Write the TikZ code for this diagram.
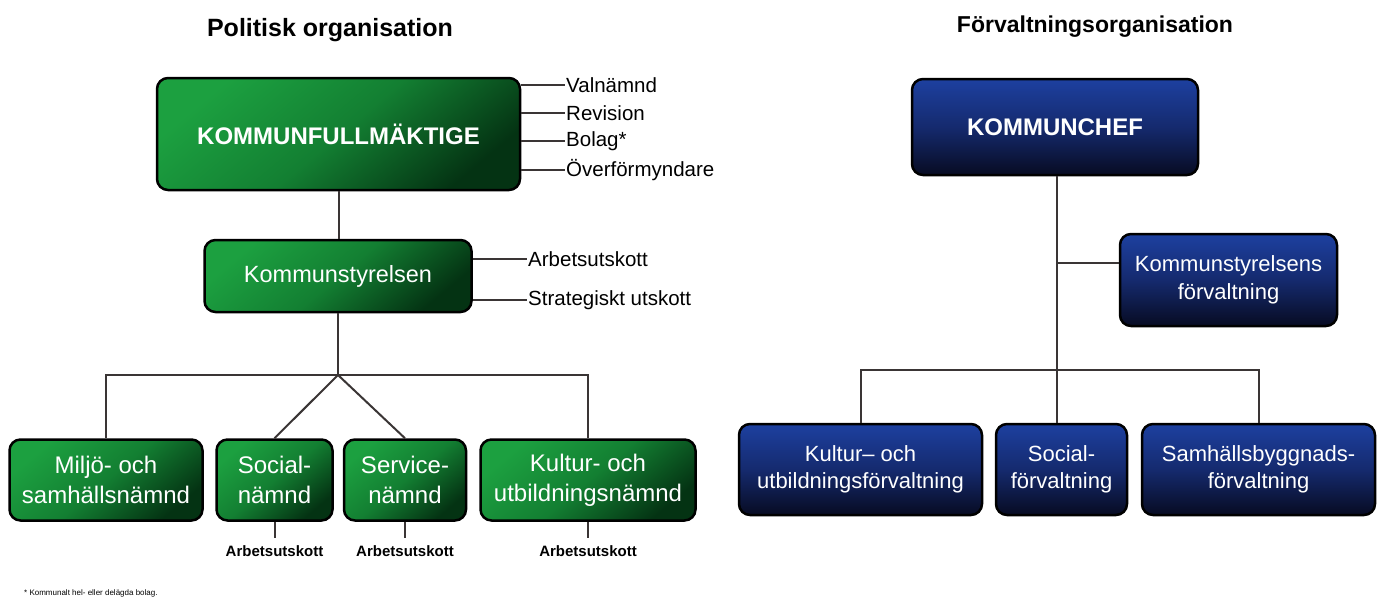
\documentclass[tikz,border=0pt]{standalone}
\usepackage{fontspec}
\setmainfont{Liberation Sans}
\usepackage{tikz}
\usepackage{xcolor}
\usetikzlibrary{positioning}
\definecolor{greenlight}{HTML}{1CA040}
\definecolor{greenmid}{HTML}{137F32}
\definecolor{greendark}{HTML}{043313}
\definecolor{bluelight}{HTML}{1D40A0}
\definecolor{bluemid}{HTML}{152A6E}
\definecolor{bluedark}{HTML}{070B22}
\definecolor{linegray}{HTML}{3A3535}
\tikzset{
    green-box/.style = {draw=black, line width=2.5pt, rectangle, rounded corners=11pt, top color=greenlight, bottom color=greendark, middle color=greenmid, shading angle=40, text=white, align=center, inner sep=0pt},
    blue-box/.style = {green-box, top color=bluelight, bottom color=bluedark, middle color=bluemid},
    side-label/.style = {anchor=west, inner sep=1pt, font=\fontsize{20.5}{24}\selectfont},
    small-label/.style = {inner sep=1pt, outer ysep=7pt, font=\bfseries\fontsize{15}{17}\selectfont},
    head-title/.style = {font=\bfseries\fontsize{23}{27}\selectfont},
    conn/.style = {draw=linegray, line width=2pt},
}

\begin{document}
\begin{tikzpicture}[x=1pt, y=-1pt]
\useasboundingbox (0,0) rectangle (1377,603);

% politisk organisation
\node[head-title, font=\bfseries\fontsize{25}{29}\selectfont] (poltitle) at (330,30) {Politisk organisation};
\node[green-box, minimum width=363pt, minimum height=112pt, font=\bfseries\fontsize{24}{28}\selectfont] (kf) at (338.5,134) {KOMMUNFULLMÄKTIGE};
\node[side-label] (valn) at (565,85) {Valnämnd};
\node[side-label] (rev) at (565,113) {Revision};
\node[side-label] (bol) at (565,141) {Bolag*};
\node[side-label] (ovf) at (565,170) {Överförmyndare};
\draw[conn] (kf.east |- valn.west) -- (valn.west);
\draw[conn] (kf.east |- rev.west) -- (rev.west);
\draw[conn] (kf.east |- bol.west) -- (bol.west);
\draw[conn] (kf.east |- ovf.west) -- (ovf.west);

\node[green-box, minimum width=267pt, minimum height=72pt, font=\fontsize{23.5}{27}\selectfont] (ks) at (338,276) {Kommunstyrelsen};
\node[side-label] (arbks) at (527,259) {Arbetsutskott};
\node[side-label] (strat) at (527,300) {Strategiskt utskott};
\draw[conn] (ks.east |- arbks.west) -- (arbks.west);
\draw[conn] (ks.east |- strat.west) -- (strat.west);
\draw[conn] (kf.south) -- (kf.south |- ks.north);

\node[green-box, minimum width=193pt, minimum height=81pt, font=\fontsize{24}{30}\selectfont] (mil) at (106,480) {Miljö- och\\samhällsnämnd};
\node[green-box, minimum width=116pt, minimum height=81pt, font=\fontsize{24}{30}\selectfont] (soc) at (274.5,480) {Social-\\nämnd};
\node[green-box, minimum width=122pt, minimum height=81pt, font=\fontsize{24}{30}\selectfont] (serv) at (405,480) {Service-\\nämnd};
\node[green-box, minimum width=215pt, minimum height=81pt, font=\fontsize{24}{30}\selectfont] (kult) at (588,480) {Kultur- och\\utbildningsnämnd};

\coordinate (hub) at (338,375);
\draw[conn] (ks.south -| hub) -- (hub);
\draw[conn] (mil.north) |- (hub) -| (kult.north);
\draw[conn] (soc.north) -- (hub) -- (serv.north);

\node[small-label, below=16pt of soc] (arbsoc) {Arbetsutskott};
\node[small-label, below=16pt of serv] (arbserv) {Arbetsutskott};
\node[small-label, below=16pt of kult] (arbkult) {Arbetsutskott};
\draw[conn] (soc.south) -- (arbsoc.north);
\draw[conn] (serv.south) -- (arbserv.north);
\draw[conn] (kult.south) -- (arbkult.north);

\node[anchor=west, inner sep=0pt, font=\fontsize{8}{9}\selectfont] (note) at (24,593) {* Kommunalt hel- eller delägda bolag.};

% forvaltningsorganisation
\node[head-title] (fortitle) at (1095,27) {Förvaltningsorganisation};
\node[blue-box, minimum width=286pt, minimum height=96pt, font=\bfseries\fontsize{24}{28}\selectfont] (kc) at (1055,127) {KOMMUNCHEF};
\node[blue-box, minimum width=217pt, minimum height=92pt, font=\fontsize{22}{28}\selectfont] (ksf) at (1228.5,280) {Kommunstyrelsens\\förvaltning};
\node[blue-box, minimum width=243pt, minimum height=91pt, font=\fontsize{22}{27}\selectfont] (kuf) at (860.5,469.5) {Kultur– och\\utbildningsförvaltning};
\node[blue-box, minimum width=131pt, minimum height=91pt, font=\fontsize{22}{27}\selectfont] (sof) at (1061.5,469.5) {Social-\\förvaltning};
\node[blue-box, minimum width=233pt, minimum height=91pt, font=\fontsize{22}{27}\selectfont] (saf) at (1258.5,469.5) {Samhällsbyggnads-\\förvaltning};

\coordinate (rhub) at (1057,370);
\coordinate (ksin) at ([yshift=17pt]ksf.west);
\draw[conn] (kc.south -| rhub) -- (sof.north -| rhub);
\draw[conn] (ksin) -- (ksin -| rhub);
\draw[conn] (kuf.north) |- (rhub) -| (saf.north);
\end{tikzpicture}
\end{document}
